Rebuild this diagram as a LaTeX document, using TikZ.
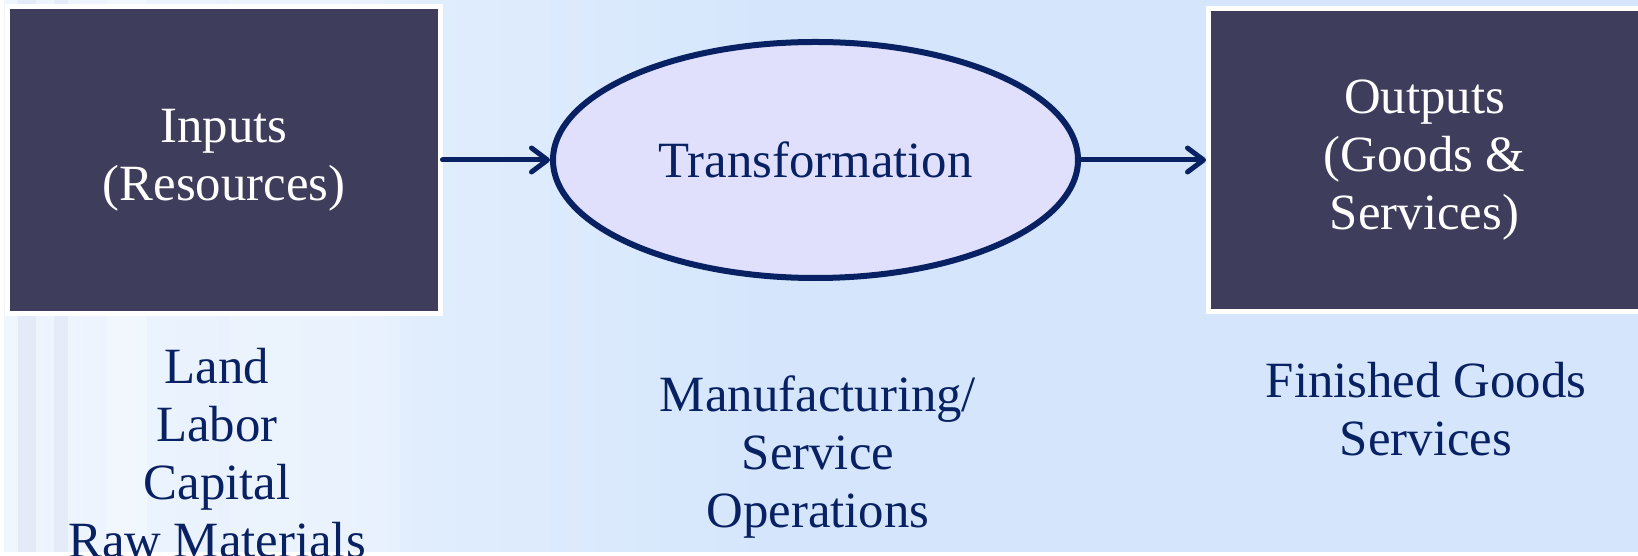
\documentclass[tikz,border=0pt]{standalone}
\usepackage{fontspec}
\setmainfont{Liberation Serif}
\usepackage{xcolor}
\usetikzlibrary{shapes.geometric,arrows.meta}

\definecolor{bgblue}{RGB}{213,230,252}
\definecolor{boxgray}{RGB}{62,61,92}
\definecolor{navy}{RGB}{8,33,98}
\definecolor{lavender}{RGB}{224,224,253}

\tikzset{
  darkbox/.style={draw=white,line width=2.5bp,fill=boxgray,text=white,align=center,inner sep=0pt},
  flowarrow/.style={draw=navy,line width=2.5bp,line cap=round,-{Straight Barb[round,length=8bp,width=12bp]}},
  listtext/.style={text=navy,align=center}
}

\begin{document}
\begin{tikzpicture}[x=0.5bp,y=-0.5bp,font=\fontsize{25.5}{29}\selectfont]
\useasboundingbox (0,0) rectangle (1638,556);
\fill[bgblue] (0,0) rectangle (1638,556);
\shade[left color=white!65!bgblue,right color=bgblue] (0,0) rectangle (760,556);
% faint columns behind the list
\fill[blue!40!gray,opacity=0.07] (18,0) rectangle (36,552);
\fill[blue!40!gray,opacity=0.06] (54,0) rectangle (68,552);
\fill[white,opacity=0.35] (107,0) rectangle (147,552);
\fill[white,opacity=0.2] (230,0) rectangle (400,552);
\fill[white] (0,0) rectangle (4,556);
\fill[white] (0,552) rectangle (1638,556);

\node[darkbox,minimum width=216bp,minimum height=153bp] (inputs) at (224,160) {Inputs\\(Resources)};
\node[ellipse,draw=navy,line width=3bp,fill=lavender,text=navy,inner sep=0pt,
  minimum width=262.5bp,minimum height=118bp] (trans) at (815.5,160) {Transformation};
\node[darkbox,minimum width=216bp,minimum height=151.5bp] (outputs) at (1424.5,160) {Outputs\\(Goods \&\\Services)};

\draw[flowarrow] (inputs.east) -- (trans.west);
\draw[flowarrow] (trans.east) -- (outputs.west);

\node[listtext] (resources) at (217,453) {Land\\Labor\\Capital\\Raw Materials};
\node[listtext] (operations) at (818,457) {Manufacturing/\\Service\\Operations};
\node[listtext] (products) at (1426,409) {Finished Goods\\Services};
\end{tikzpicture}
\end{document}
